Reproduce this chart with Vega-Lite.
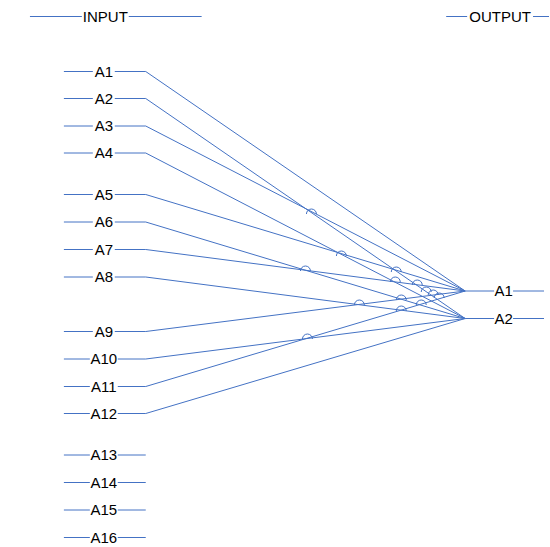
{
  "$schema": "https://vega.github.io/schema/vega-lite/v6.json",
  "width": 550,
  "height": 547,
  "autosize": {"type": "fit", "contains": "padding"},
  "padding": 0,
  "background": "white",
  "config": {"view": {"stroke": null}},
  "datasets": {
    "segments": [
      {"x1": 30, "x2": 82, "y": 16.5}, {"x1": 129, "x2": 202, "y": 16.5},
      {"x1": 447, "x2": 468, "y": 16.5}, {"x1": 534, "x2": 550, "y": 16.5},
      {"x1": 64, "x2": 93, "y": 71.5}, {"x1": 115, "x2": 146, "y": 71.5},
      {"x1": 64, "x2": 93, "y": 98.5}, {"x1": 115, "x2": 146, "y": 98.5},
      {"x1": 64, "x2": 93, "y": 126}, {"x1": 115, "x2": 146, "y": 126},
      {"x1": 64, "x2": 93, "y": 153}, {"x1": 115, "x2": 146, "y": 153},
      {"x1": 64, "x2": 93, "y": 194.5}, {"x1": 115, "x2": 146, "y": 194.5},
      {"x1": 64, "x2": 93, "y": 222}, {"x1": 115, "x2": 146, "y": 222},
      {"x1": 64, "x2": 93, "y": 249.5}, {"x1": 115, "x2": 146, "y": 249.5},
      {"x1": 64, "x2": 93, "y": 277}, {"x1": 115, "x2": 146, "y": 277},
      {"x1": 64, "x2": 93, "y": 331.5}, {"x1": 115, "x2": 146, "y": 331.5},
      {"x1": 64, "x2": 90, "y": 359}, {"x1": 118, "x2": 146, "y": 359},
      {"x1": 64, "x2": 90, "y": 386.5}, {"x1": 118, "x2": 146, "y": 386.5},
      {"x1": 64, "x2": 90, "y": 413.5}, {"x1": 118, "x2": 146, "y": 413.5},
      {"x1": 64, "x2": 90, "y": 455}, {"x1": 118, "x2": 146, "y": 455},
      {"x1": 64, "x2": 90, "y": 482.5}, {"x1": 118, "x2": 146, "y": 482.5},
      {"x1": 64, "x2": 90, "y": 510}, {"x1": 118, "x2": 146, "y": 510},
      {"x1": 64, "x2": 90, "y": 537.5}, {"x1": 118, "x2": 146, "y": 537.5},
      {"x1": 466, "x2": 495, "y": 291}, {"x1": 514, "x2": 545, "y": 291},
      {"x1": 466, "x2": 495, "y": 318.5}, {"x1": 514, "x2": 545, "y": 318.5}
    ],
    "labels": [
      {"label": "INPUT", "x": 105.5, "y": 16.5},
      {"label": "OUTPUT", "x": 501, "y": 16.5},
      {"label": "A1", "x": 104, "y": 71.5},
      {"label": "A2", "x": 104, "y": 98.5},
      {"label": "A3", "x": 104, "y": 126},
      {"label": "A4", "x": 104, "y": 153},
      {"label": "A5", "x": 104, "y": 194.5},
      {"label": "A6", "x": 104, "y": 222},
      {"label": "A7", "x": 104, "y": 249.5},
      {"label": "A8", "x": 104, "y": 277},
      {"label": "A9", "x": 104, "y": 331.5},
      {"label": "A10", "x": 104, "y": 359},
      {"label": "A11", "x": 104, "y": 386.5},
      {"label": "A12", "x": 104, "y": 413.5},
      {"label": "A13", "x": 104, "y": 455},
      {"label": "A14", "x": 104, "y": 482.5},
      {"label": "A15", "x": 104, "y": 510},
      {"label": "A16", "x": 104, "y": 537.5},
      {"label": "A1", "x": 504.5, "y": 291},
      {"label": "A2", "x": 504.5, "y": 318.5}
    ],
    "wires": [
      {"wire": "A1-A1", "step": 0, "x": 146, "y": 71.5}, {"wire": "A1-A1", "step": 1, "x": 466, "y": 291},
      {"wire": "A2-A2", "step": 0, "x": 146, "y": 98.5}, {"wire": "A2-A2", "step": 1, "x": 466, "y": 318.5},
      {"wire": "A3-A1", "step": 0, "x": 146, "y": 126}, {"wire": "A3-A1", "step": 1, "x": 466, "y": 291},
      {"wire": "A4-A2", "step": 0, "x": 146, "y": 153}, {"wire": "A4-A2", "step": 1, "x": 466, "y": 318.5},
      {"wire": "A5-A1", "step": 0, "x": 146, "y": 194.5}, {"wire": "A5-A1", "step": 1, "x": 466, "y": 291},
      {"wire": "A6-A2", "step": 0, "x": 146, "y": 222}, {"wire": "A6-A2", "step": 1, "x": 466, "y": 318.5},
      {"wire": "A7-A1", "step": 0, "x": 146, "y": 249.5}, {"wire": "A7-A1", "step": 1, "x": 466, "y": 291},
      {"wire": "A8-A2", "step": 0, "x": 146, "y": 277}, {"wire": "A8-A2", "step": 1, "x": 466, "y": 318.5},
      {"wire": "A9-A1", "step": 0, "x": 146, "y": 331.5}, {"wire": "A9-A1", "step": 1, "x": 466, "y": 291},
      {"wire": "A10-A2", "step": 0, "x": 146, "y": 359}, {"wire": "A10-A2", "step": 1, "x": 466, "y": 318.5},
      {"wire": "A11-A1", "step": 0, "x": 146, "y": 386.5}, {"wire": "A11-A1", "step": 1, "x": 466, "y": 291},
      {"wire": "A12-A2", "step": 0, "x": 146, "y": 413.5}, {"wire": "A12-A2", "step": 1, "x": 466, "y": 318.5}
    ],
    "hops": [
      {"x": 312, "y": 211}, {"x": 342, "y": 253}, {"x": 306, "y": 268},
      {"x": 397, "y": 269}, {"x": 396, "y": 279}, {"x": 418, "y": 282},
      {"x": 427, "y": 289}, {"x": 434, "y": 292}, {"x": 440, "y": 295},
      {"x": 402, "y": 297}, {"x": 360, "y": 302}, {"x": 422, "y": 302},
      {"x": 402, "y": 308}, {"x": 308, "y": 336}
    ]
  },
  "encoding": {
    "x": {"field": "x1", "type": "quantitative", "scale": {"domain": [0, 550], "nice": false, "zero": false}, "axis": null},
    "y": {"field": "y", "type": "quantitative", "scale": {"domain": [0, 547], "nice": false, "zero": false, "reverse": true}, "axis": null}
  },
  "layer": [
    {
      "data": {"name": "segments"},
      "mark": {"type": "rule", "color": "#4472C4", "strokeWidth": 1},
      "encoding": {
        "x": {"field": "x1", "type": "quantitative"},
        "x2": {"field": "x2"},
        "y": {"field": "y", "type": "quantitative"}
      }
    },
    {
      "data": {"name": "wires"},
      "mark": {"type": "line", "color": "#4472C4", "strokeWidth": 1},
      "encoding": {
        "x": {"field": "x", "type": "quantitative"},
        "y": {"field": "y", "type": "quantitative"},
        "detail": {"field": "wire", "type": "nominal"},
        "order": {"field": "step", "type": "quantitative"}
      }
    },
    {
      "data": {"name": "hops"},
      "mark": {"type": "point", "shape": "M -1 0.6 A 1 1 0 0 1 1 0.6", "filled": false, "fill": null, "stroke": "#4472C4", "strokeWidth": 1, "size": 100, "opacity": 1},
      "encoding": {
        "x": {"field": "x", "type": "quantitative"},
        "y": {"field": "y", "type": "quantitative"}
      }
    },
    {
      "data": {"name": "labels"},
      "mark": {"type": "text", "font": "Liberation Sans", "fontSize": 15, "color": "#000000", "align": "center", "baseline": "middle"},
      "encoding": {
        "x": {"field": "x", "type": "quantitative"},
        "y": {"field": "y", "type": "quantitative"},
        "text": {"field": "label", "type": "nominal"}
      }
    }
  ]
}
